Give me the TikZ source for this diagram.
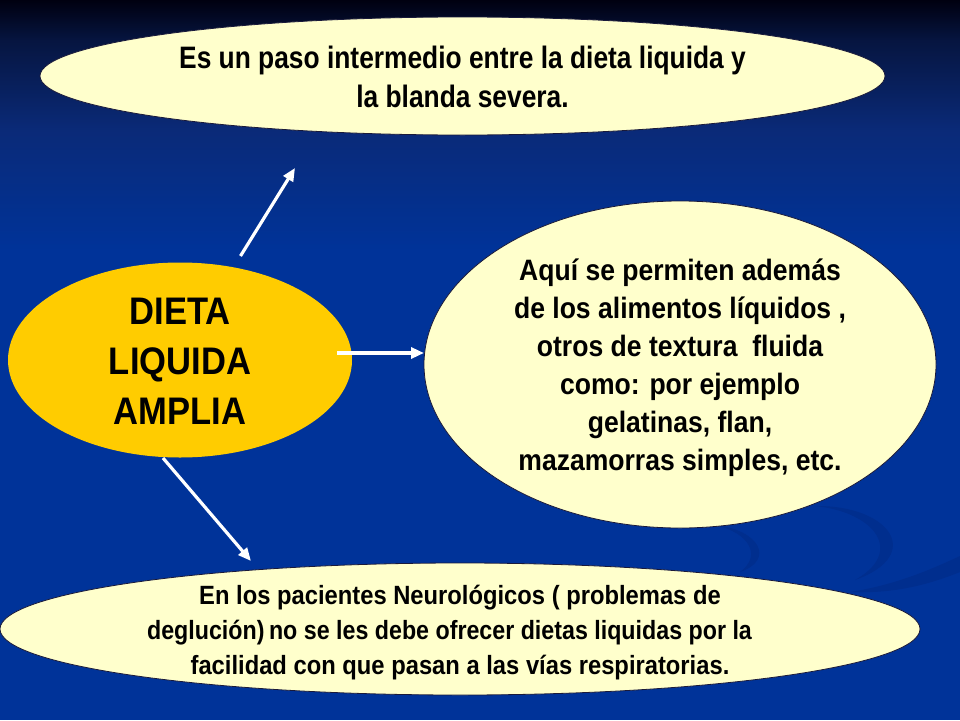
\documentclass[tikz,border=0pt]{standalone}
\usepackage{fontspec}
\setmainfont{Liberation Sans}[FakeStretch=0.9]
\newfontfamily\narrowfont{Liberation Sans}[FakeStretch=0.85]
\newfontfamily\tightfont{Liberation Sans}[FakeStretch=0.88]
\usetikzlibrary{shapes.geometric,arrows.meta}
\definecolor{bgblue}{HTML}{003399}
\definecolor{bgtop}{HTML}{000010}
\definecolor{bgmidA}{HTML}{061540}
\definecolor{bgmidB}{HTML}{0A2A78}
\definecolor{paleyel}{HTML}{FFFFCC}
\definecolor{gold}{HTML}{FFCC00}
\definecolor{swoosh}{HTML}{002E8E}
\definecolor{rim}{HTML}{1A1A3A}
\begin{document}
\begin{tikzpicture}[x=1pt,y=-1pt,
  bubble/.style={ellipse, fill=paleyel, draw=rim, line width=0.8pt, inner sep=0pt, outer sep=0pt},
  core/.style={ellipse, fill=gold, inner sep=0pt, outer sep=0pt},
  txt/.style={align=center, text=black, inner sep=0pt},
  arrowline/.style={draw=white, line width=3.2pt, -{Triangle[length=13pt,width=11pt]}}]
\useasboundingbox (0,0) rectangle (960,720);
% background
\fill[bgblue] (0,0) rectangle (960,720);
\shade[top color=bgtop, bottom color=bgmidA] (0,0) rectangle (960,40);
\shade[top color=bgmidA, bottom color=bgmidB] (0,40) rectangle (960,130);
\shade[top color=bgmidB, bottom color=bgblue] (0,130) rectangle (960,250);
% faint swooshes
\fill[swoosh] (815,506) .. controls (890,505) and (925,555) .. (855,580)
  .. controls (905,552) and (875,512) .. (815,506) -- cycle;
\fill[swoosh] (715,525) .. controls (760,530) and (775,560) .. (740,572)
  .. controls (762,556) and (750,533) .. (715,525) -- cycle;
\fill[swoosh] (850,592) .. controls (895,585) and (930,570) .. (960,556)
  -- (960,572) .. controls (930,584) and (895,594) .. (850,592) -- cycle;
% shapes
\node[bubble, minimum width=845pt, minimum height=118pt] (top) at (462.5,76) {};
\node[core, minimum width=344pt, minimum height=195pt] (core) at (180,360) {};
\node[bubble, minimum width=512pt, minimum height=327pt] (right) at (680,364.5) {};
\node[bubble, minimum width=920pt, minimum height=132pt] (bottom) at (460,629) {};
% texts
\node[txt, font=\narrowfont\bfseries\fontsize{31}{39}\selectfont] (topText)
  at ([yshift=-1pt]top.center)
  {Es un paso intermedio entre la dieta liquida y\\la blanda severa.};
\node[txt, font=\bfseries\fontsize{38.4}{50}\selectfont] (coreText)
  at ([yshift=-1.5pt]core.center)
  {DIETA\\LIQUIDA\\AMPLIA};
\node[txt, font=\bfseries\fontsize{29.5}{38}\selectfont] (rightText)
  at ([yshift=-3pt]right.center)
  {Aquí se permiten además\\de los alimentos líquidos ,\\otros de textura~ fluida\\como: por ejemplo\\gelatinas, flan,\\mazamorras simples, etc.};
\node[txt, font=\bfseries\fontsize{26.4}{35}\selectfont] (bottomText)
  at ([yshift=-4pt]bottom.center)
  {En los pacientes Neurológicos ( problemas de\\{\tightfont\bfseries deglución)\hspace{-2pt} no se les debe ofrecer dietas liquidas por la}\rule{21pt}{0pt}\\facilidad con que pasan a las vías respiratorias.};
% arrows
\coordinate (upTail) at (240.5,256);
\coordinate (upTip) at (295,168);
\coordinate (rTail) at (337,353);
\coordinate (dnTail) at (163,458);
\coordinate (dnTip) at (251,561);
\draw[arrowline] (upTail) -- (upTip);
\draw[arrowline] (rTail) -- (rTail -| right.west);
\draw[arrowline] (dnTail) -- (dnTip);
\end{tikzpicture}
\end{document}
